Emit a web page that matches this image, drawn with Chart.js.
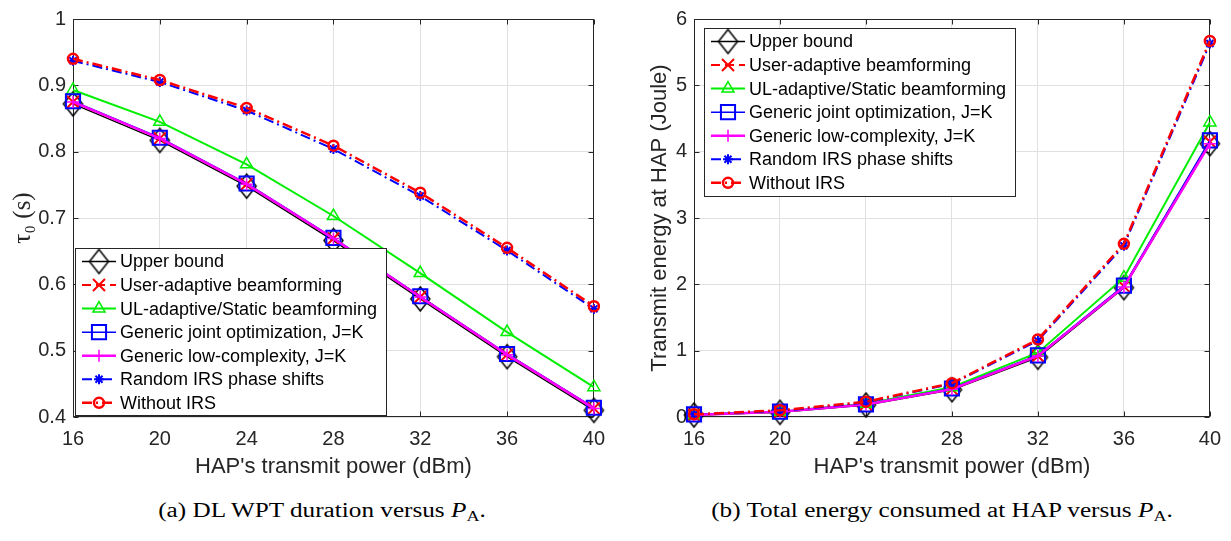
<!DOCTYPE html>
<html>
<head>
<meta charset="utf-8">
<script src="https://cdn.jsdelivr.net/npm/chart.js@4.4.1/dist/chart.umd.min.js"></script>
<style>
  html, body { margin: 0; padding: 0; background: #ffffff; }
  #wrap { position: relative; width: 1231px; height: 541px; overflow: hidden; background: #fff; }
  .panel { position: absolute; top: 0; height: 480px; }
  .cap { position: absolute; top: 499px; width: 500px; text-align: center; white-space: nowrap;
         font-family: 'Liberation Serif', 'Times New Roman', serif; font-size: 20px; color: #000;
         transform: scaleX(1.26); transform-origin: center; }
  .cap sub { font-size: 0.72em; vertical-align: -0.3em; }
</style>
</head>
<body>
<div id="wrap">
  <div class="panel" style="left:0px;width:615px;"><canvas id="chartA"></canvas></div>
  <div class="panel" style="left:615px;width:616px;"><canvas id="chartB"></canvas></div>
  <div class="cap" style="left:72px;">(a) DL WPT duration versus <i>P</i><sub>A</sub>.</div>
  <div class="cap" style="left:692px;">(b) Total energy consumed at HAP versus <i>P</i><sub>A</sub>.</div>
</div>
<script>
// ---------------- DATA ----------------
const powerDbm = [16, 20, 24, 28, 32, 36, 40];

const seriesNames = [
  'Upper bound',
  'User-adaptive beamforming',
  'UL-adaptive/Static beamforming',
  'Generic joint optimization, J=K',
  'Generic low-complexity, J=K',
  'Random IRS phase shifts',
  'Without IRS'
];

// (a) DL WPT duration tau_0 (s)
const tauUpperBound   = [0.872, 0.817, 0.748, 0.666, 0.578, 0.491, 0.410];
const tauUserAdaptive = [0.875, 0.820, 0.751, 0.669, 0.581, 0.494, 0.413];
const tauULAdaptive   = [0.893, 0.845, 0.781, 0.703, 0.617, 0.528, 0.445];
const tauGenericJoint = [0.876, 0.821, 0.752, 0.670, 0.582, 0.495, 0.414];
const tauGenericLow   = [0.875, 0.820, 0.751, 0.669, 0.581, 0.494, 0.413];
const tauRandomIRS    = [0.937, 0.905, 0.862, 0.804, 0.733, 0.651, 0.563];
const tauWithoutIRS   = [0.940, 0.908, 0.866, 0.809, 0.738, 0.655, 0.567];

// (b) Transmit energy at HAP (Joule)
const eUpperBound   = [0.03, 0.07, 0.18, 0.41, 0.90, 1.95, 4.12];
const eUserAdaptive = [0.03, 0.08, 0.19, 0.42, 0.92, 1.97, 4.15];
const eULAdaptive   = [0.03, 0.08, 0.20, 0.45, 0.97, 2.10, 4.44];
const eGenericJoint = [0.04, 0.08, 0.19, 0.43, 0.93, 1.98, 4.17];
const eGenericLow   = [0.03, 0.08, 0.19, 0.42, 0.92, 1.96, 4.12];
const eRandomIRS    = [0.04, 0.09, 0.22, 0.50, 1.15, 2.58, 5.63];
const eWithoutIRS   = [0.04, 0.10, 0.23, 0.51, 1.17, 2.61, 5.67];

const xTicks = [16, 20, 24, 28, 32, 36, 40];
const tauTicks = [0.4, 0.5, 0.6, 0.7, 0.8, 0.9, 1];
const energyTicks = [0, 1, 2, 3, 4, 5, 6];

// ---------------- STYLES ----------------
const FONT = "'Liberation Sans', Arial, Helvetica, sans-serif";
const TEXT = '#262626';

// MATLAB-like diamond (slightly taller than wide)
function makeDiamond(hw, hh, lw, color) {
  const c = document.createElement('canvas');
  const pad = Math.ceil(lw) + 1;
  c.width = 2 * hw + 2 * pad; c.height = 2 * hh + 2 * pad;
  const g = c.getContext('2d');
  const cx = c.width / 2, cy = c.height / 2;
  g.strokeStyle = color; g.lineWidth = lw; g.lineJoin = 'miter';
  g.beginPath();
  g.moveTo(cx - hw, cy); g.lineTo(cx, cy - hh); g.lineTo(cx + hw, cy); g.lineTo(cx, cy + hh);
  g.closePath(); g.stroke();
  return c;
}
const diamondMarker = makeDiamond(9.5, 12, 1.5, '#000000');

const styles = [
  { color: '#000000', dash: [],            lw: 1.5, ps: diamondMarker, r: 12,  pw: 1.5 },
  { color: '#ff0000', dash: [9, 5],        lw: 2,   ps: 'crossRot',    r: 8.5, pw: 2 },
  { color: '#00ee00', dash: [],            lw: 2,   ps: 'triangle',    r: 7,   pw: 1.5 },
  { color: '#0000ff', dash: [],            lw: 1.5, ps: 'rect',        r: 10,  pw: 2 },
  { color: '#ff00ff', dash: [],            lw: 2.5, ps: 'cross',       r: 6,   pw: 1.5 },
  { color: '#0000ff', dash: [10, 4, 2, 4], lw: 2,   ps: 'star',        r: 5,   pw: 2 },
  { color: '#ff0000', dash: [10, 4, 2, 4], lw: 2.5, ps: 'circle',      r: 5,   pw: 2.5 }
];

function buildDatasets(seriesList) {
  return seriesList.map((vals, i) => {
    const s = styles[i];
    return {
      label: seriesNames[i],
      data: powerDbm.map((x, k) => ({ x: x, y: vals[k] })),
      borderColor: s.color,
      backgroundColor: s.color,
      borderWidth: s.lw,
      borderDash: s.dash,
      pointStyle: s.ps,
      pointRadius: s.r,
      pointHoverRadius: s.r,
      pointBorderColor: s.color,
      pointBackgroundColor: 'rgba(0,0,0,0)',
      pointBorderWidth: s.pw,
      fill: false,
      tension: 0,
      clip: false,
      order: -i
    };
  });
}

// ---------------- PLUGINS ----------------
function markerPath(ctx, style, r, x, y) {
  ctx.beginPath();
  let rad = 0, xo, yo;
  switch (style) {
    case 'circle': ctx.arc(x, y, r, 0, 2 * Math.PI); ctx.closePath(); break;
    case 'triangle':
      ctx.moveTo(x + Math.sin(rad) * r, y - Math.cos(rad) * r);
      rad += 2 * Math.PI / 3;
      ctx.lineTo(x + Math.sin(rad) * r, y - Math.cos(rad) * r);
      rad += 2 * Math.PI / 3;
      ctx.lineTo(x + Math.sin(rad) * r, y - Math.cos(rad) * r);
      ctx.closePath(); break;
    case 'rect': { const s = Math.SQRT1_2 * r; ctx.rect(x - s, y - s, 2 * s, 2 * s); break; }
    case 'cross':
      ctx.moveTo(x, y - r); ctx.lineTo(x, y + r); ctx.moveTo(x - r, y); ctx.lineTo(x + r, y); break;
    case 'crossRot':
      xo = Math.cos(Math.PI / 4) * r; yo = Math.sin(Math.PI / 4) * r;
      ctx.moveTo(x - xo, y - yo); ctx.lineTo(x + xo, y + yo); ctx.moveTo(x + yo, y - xo); ctx.lineTo(x - yo, y + xo); break;
    case 'star':
      ctx.moveTo(x, y - r); ctx.lineTo(x, y + r); ctx.moveTo(x - r, y); ctx.lineTo(x + r, y);
      xo = Math.cos(Math.PI / 4) * r; yo = Math.sin(Math.PI / 4) * r;
      ctx.moveTo(x - xo, y - yo); ctx.lineTo(x + xo, y + yo); ctx.moveTo(x + yo, y - xo); ctx.lineTo(x - yo, y + xo); break;
  }
}

const framePlugin = {
  id: 'frame',
  beforeDatasetsDraw(chart) {
    const { ctx, chartArea: a, scales } = chart;
    const x = scales.x, y = scales.y;
    ctx.save();
    ctx.strokeStyle = TEXT;
    ctx.lineWidth = 1;
    const L = Math.round(a.left) + 0.5, R = Math.round(a.right) - 0.5;
    const T = Math.round(a.top) + 0.5, B = Math.round(a.bottom) - 0.5;
    ctx.strokeRect(L, T, R - L, B - T);
    ctx.beginPath();
    x.ticks.forEach(t => {
      const px = Math.round(x.getPixelForValue(t.value)) + 0.5;
      ctx.moveTo(px, B); ctx.lineTo(px, B - 5);
      ctx.moveTo(px, T); ctx.lineTo(px, T + 5);
    });
    y.ticks.forEach(t => {
      const py = Math.round(y.getPixelForValue(t.value)) + 0.5;
      ctx.moveTo(L, py); ctx.lineTo(L + 5, py);
      ctx.moveTo(R, py); ctx.lineTo(R - 5, py);
    });
    ctx.stroke();
    ctx.restore();
  }
};

const insideLegend = {
  id: 'insideLegend',
  afterDraw(chart, args, opts) {
    const { ctx, chartArea: a } = chart;
    const dsets = chart.data.datasets;
    const w = opts.width, h = opts.height;
    const x0 = Math.round(a.left + opts.dx);
    const y0 = opts.corner === 'sw' ? Math.round(a.bottom - opts.dy - h) : Math.round(a.top + opts.dy);
    ctx.save();
    ctx.fillStyle = '#ffffff';
    ctx.fillRect(x0, y0, w, h);
    ctx.strokeStyle = TEXT;
    ctx.lineWidth = 1;
    ctx.strokeRect(x0 + 0.5, y0 + 0.5, w, h);
    ctx.font = '18px ' + FONT;
    ctx.textBaseline = 'middle';
    ctx.textAlign = 'left';
    dsets.forEach((ds, i) => {
      const cy = y0 + opts.firstRow + i * opts.rowStep;
      const mx = x0 + 24;
      ctx.strokeStyle = ds.borderColor;
      ctx.lineWidth = ds.borderWidth;
      ctx.setLineDash(ds.borderDash || []);
      ctx.beginPath();
      ctx.moveTo(x0 + 7, cy); ctx.lineTo(x0 + 41, cy);
      ctx.stroke();
      ctx.setLineDash([]);
      if (typeof ds.pointStyle === 'object') {
        const img = ds.pointStyle;
        ctx.drawImage(img, mx - img.width / 2, cy - img.height / 2);
      } else {
        ctx.lineWidth = ds.pointBorderWidth;
        markerPath(ctx, ds.pointStyle, ds.pointRadius, mx, cy);
        ctx.stroke();
      }
      ctx.fillStyle = '#000000';
      ctx.fillText(ds.label, x0 + 45, cy + 1);
    });
    ctx.restore();
  }
};

// ---------------- CHARTS ----------------
function makeChart(canvasId, datasets, cfg) {
  return new Chart(document.getElementById(canvasId), {
    type: 'line',
    data: { datasets: datasets },
    plugins: [framePlugin, insideLegend],
    options: {
      responsive: true,
      maintainAspectRatio: false,
      animation: false,
      events: [],
      layout: { padding: { left: 0, right: cfg.padRight, top: 15, bottom: 0 } },
      plugins: {
        legend: { display: false },
        tooltip: { enabled: false },
        insideLegend: cfg.legend
      },
      scales: {
        x: {
          type: 'linear',
          min: 16, max: 40,
          afterBuildTicks: s => { s.ticks = xTicks.map(v => ({ value: v })); },
          ticks: { padding: 10, color: TEXT, font: { family: FONT, size: 20 }, maxRotation: 0, autoSkip: false },
          grid: { color: '#e0e0e0', lineWidth: 1, drawTicks: false },
          border: { display: false },
          title: { display: true, text: "HAP's transmit power (dBm)", color: TEXT,
                   font: { family: FONT, size: 22 }, padding: { top: 0, bottom: 0 } },
          afterFit: s => { s.height = 63; }
        },
        y: {
          type: 'linear',
          min: cfg.yMin, max: cfg.yMax,
          afterBuildTicks: s => { s.ticks = cfg.yTicks.map(v => ({ value: v })); },
          ticks: { padding: 7, color: TEXT, font: { family: FONT, size: 20 }, autoSkip: false,
                   callback: v => String(Math.round(v * 10) / 10) },
          grid: { color: '#e0e0e0', lineWidth: 1, drawTicks: false },
          border: { display: false },
          title: { display: true, text: cfg.yTitle, color: TEXT,
                   font: cfg.yTitleFont, padding: { top: cfg.yTitlePad, bottom: 0 } },
          afterFit: s => { s.width = cfg.yWidth; }
        }
      }
    }
  });
}

makeChart('chartA',
  buildDatasets([tauUpperBound, tauUserAdaptive, tauULAdaptive, tauGenericJoint, tauGenericLow, tauRandomIRS, tauWithoutIRS]),
  {
    padRight: 20, yMin: 0.4, yMax: 1, yTicks: tauTicks, yWidth: 73,
    yTitle: 'τ₀ (s)', yTitleFont: { family: "'Liberation Serif', 'DejaVu Serif', serif", size: 25 }, yTitlePad: 8,
    legend: { corner: 'sw', dx: 2, dy: 2, width: 311, height: 167, firstRow: 13.5, rowStep: 23.55 }
  });

makeChart('chartB',
  buildDatasets([eUpperBound, eUserAdaptive, eULAdaptive, eGenericJoint, eGenericLow, eRandomIRS, eWithoutIRS]),
  {
    padRight: 15, yMin: 0, yMax: 6, yTicks: energyTicks, yWidth: 79,
    yTitle: 'Transmit energy at HAP (Joule)', yTitleFont: { family: FONT, size: 22 }, yTitlePad: 32,
    legend: { corner: 'nw', dx: 10, dy: 9, width: 311, height: 168, firstRow: 13.5, rowStep: 23.55 }
  });
</script>
</body>
</html>
